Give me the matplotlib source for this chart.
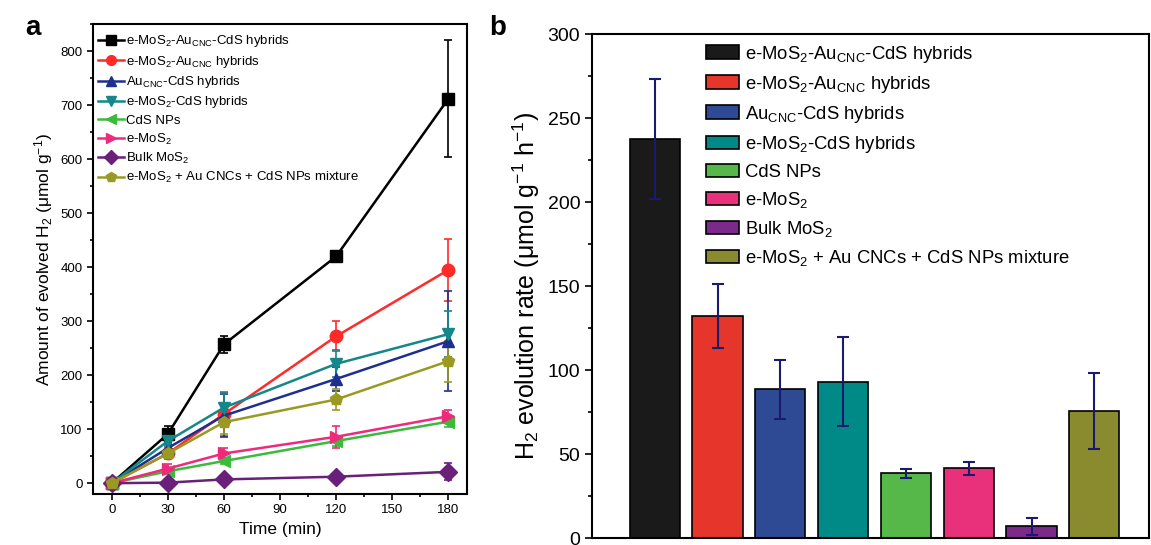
import numpy as np
import matplotlib
matplotlib.use('Agg')
import matplotlib.pyplot as plt
from matplotlib.ticker import MultipleLocator
from matplotlib.lines import Line2D

plt.rcParams['font.family'] = ['Liberation Sans', 'DejaVu Sans']
plt.rcParams['mathtext.default'] = 'regular'

# %% data
labels = [r'e-MoS$_2$-Au$_{CNC}$-CdS hybrids',
          r'e-MoS$_2$-Au$_{CNC}$ hybrids',
          r'Au$_{CNC}$-CdS hybrids',
          r'e-MoS$_2$-CdS hybrids',
          'CdS NPs',
          r'e-MoS$_2$',
          r'Bulk MoS$_2$',
          r'e-MoS$_2$ + Au CNCs + CdS NPs mixture']

time = [0, 30, 60, 120, 180]
amount = [[0, 91, 257, 420, 712],
          [0, 55, 128, 272, 395],
          [0, 65, 125, 193, 263],
          [0, 78, 140, 221, 276],
          [0, 22, 41, 78, 114],
          [0, 27, 55, 86, 124],
          [0, 1, 7, 12, 21],
          [0, 55, 113, 155, 226]]
amount_err = [[0, 15, 15, 10, 108],
              [0, 10, 40, 28, 57],
              [0, 8, 40, 22, 93],
              [0, 10, 27, 25, 42],
              [0, 5, 6, 10, 10],
              [0, 8, 10, 20, 12],
              [0, 2, 3, 3, 16],
              [0, 10, 22, 20, 38]]

rate = [237.5, 132, 88.5, 93, 38.5, 41.5, 7, 75.5]
rate_err = [36, 19, 17.5, 26.5, 2.7, 4, 5.2, 22.5]

line_colors = ['#000000', '#ff2a2a', '#1f2f8f', '#13878a',
               '#3cba3c', '#ee2a7b', '#6a1f7a', '#9a9a22']
bar_colors = ['#1a1a1a', '#e6352b', '#2e4a94', '#008a87',
              '#55b848', '#e8317a', '#7b2a8a', '#8a8a2e']
markers = ['s', 'o', '^', 'v', '<', '>', 'D', 'p']

fig = plt.figure(figsize=(11.51, 5.45), dpi=100)

# %% panel a
ax1 = fig.add_axes([0.0808, 0.0936, 0.325, 0.862])
handles = []
for i in range(len(labels)):
    ax1.errorbar(time, amount[i], yerr=amount_err[i], color=line_colors[i],
                 marker=markers[i], markersize=9, lw=1.8, capsize=3,
                 elinewidth=1.2, capthick=1.2)
    handles.append(Line2D([], [], color=line_colors[i], marker=markers[i],
                          markersize=7, lw=1.8))
ax1.set_xlim(-10, 190)
ax1.set_ylim(-20, 850)
ax1.xaxis.set_major_locator(MultipleLocator(30))
ax1.xaxis.set_minor_locator(MultipleLocator(15))
ax1.yaxis.set_major_locator(MultipleLocator(100))
ax1.yaxis.set_minor_locator(MultipleLocator(50))
ax1.tick_params(labelsize=9.5, width=1.2, length=4)
ax1.tick_params(which='minor', width=1.2, length=2.5)
for s in ax1.spines.values():
    s.set_linewidth(1.5)
ax1.set_xlabel('Time (min)', fontsize=12.5)
ax1.set_ylabel(r'Amount of evolved H$_2$ ($\mu$mol g$^{-1}$)', fontsize=12.5)
ax1.legend(handles, labels, loc='upper left', frameon=False, fontsize=9.5,
           handlelength=1.9, handletextpad=0.15, labelspacing=0.33,
           borderaxespad=0.3, bbox_to_anchor=(-0.01, 1.0))
fig.text(0.022, 0.936, 'a', fontsize=20, fontweight='bold')

# %% panel b
ax2 = fig.add_axes([0.5143, 0.0128, 0.4839, 0.9248])
pos = np.arange(1, len(rate) + 1)
bars = ax2.bar(pos, rate, width=0.8, color=bar_colors, edgecolor='black',
               linewidth=1.2)
ax2.errorbar(pos, rate, yerr=rate_err, fmt='none', ecolor='#1a1a6e',
             elinewidth=1.5, capsize=4, capthick=1.5)
ax2.set_xlim(0, 8.87)
ax2.set_ylim(0, 300)
ax2.set_xticks([])
ax2.yaxis.set_major_locator(MultipleLocator(50))
ax2.yaxis.set_minor_locator(MultipleLocator(25))
ax2.tick_params(labelsize=14, width=1.2, length=5)
ax2.tick_params(which='minor', width=1.2, length=3)
for s in ax2.spines.values():
    s.set_linewidth(1.5)
ax2.set_ylabel(r'H$_2$ evolution rate ($\mu$mol g$^{-1}$ h$^{-1}$)',
               fontsize=18)
ax2.legend(bars, labels, loc='upper left', bbox_to_anchor=(0.175, 1.014),
           frameon=False, fontsize=13.3, handlelength=1.8,
           handleheight=0.75, handletextpad=0.3, labelspacing=0.49)
fig.text(0.425, 0.936, 'b', fontsize=20, fontweight='bold')

fig.savefig('out.png', dpi=100)
